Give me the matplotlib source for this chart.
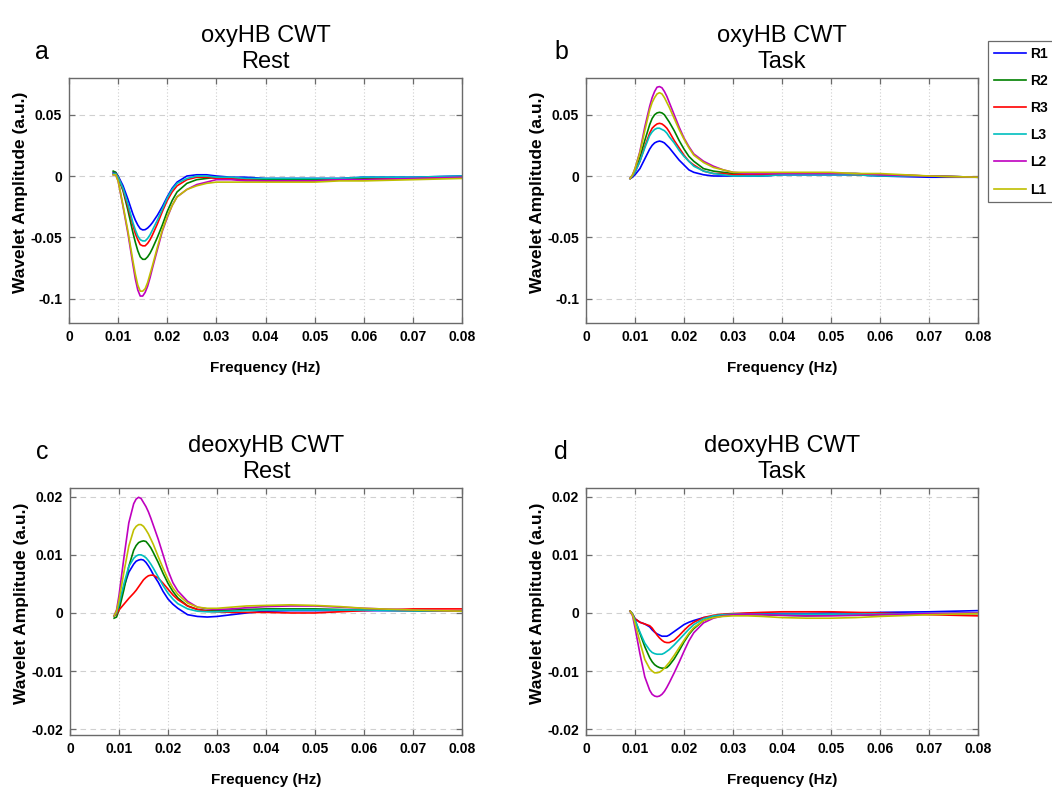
import numpy as np
import matplotlib
matplotlib.use("Agg")
import matplotlib.pyplot as plt
from matplotlib.ticker import FormatStrFormatter, MultipleLocator

plt.rcParams['font.family'] = ['Liberation Sans', 'DejaVu Sans']

# frequency samples (Hz), shared by all panels
freq = [0.009, 0.0095, 0.010, 0.011, 0.012, 0.013, 0.0135, 0.014, 0.0145, 0.015,
        0.0155, 0.016, 0.0165, 0.017, 0.018, 0.019, 0.020, 0.021, 0.022, 0.024,
        0.026, 0.028, 0.030, 0.033, 0.036, 0.040, 0.045, 0.050, 0.055, 0.060,
        0.070, 0.080]

channels = ['R1', 'R2', 'R3', 'L3', 'L2', 'L1']

# a: oxyHB rest
oxy_rest = {
    'R1': [0.003, 0.003, 0.000, -0.008, -0.019, -0.031, -0.036, -0.040, -0.043, -0.044,
           -0.0438, -0.0425, -0.0405, -0.038, -0.032, -0.025, -0.017, -0.010, -0.005, 0.000,
           0.001, 0.001, 0.000, -0.001, -0.001, -0.002, -0.002, -0.002, -0.002, -0.001,
           -0.001, 0.000],
    'R2': [0.004, 0.003, -0.001, -0.012, -0.028, -0.046, -0.054, -0.061, -0.066, -0.068,
           -0.068, -0.066, -0.063, -0.059, -0.050, -0.040, -0.029, -0.020, -0.013, -0.006,
           -0.003, -0.002, -0.001, -0.002, -0.003, -0.003, -0.003, -0.003, -0.003, -0.002,
           -0.002, -0.001],
    'R3': [0.002, 0.002, -0.001, -0.011, -0.025, -0.040, -0.047, -0.052, -0.056, -0.057,
           -0.057, -0.055, -0.052, -0.048, -0.039, -0.029, -0.020, -0.013, -0.008, -0.003,
           -0.001, -0.001, -0.002, -0.002, -0.003, -0.004, -0.004, -0.004, -0.003, -0.003,
           -0.002, -0.001],
    'L3': [0.002, 0.002, -0.001, -0.010, -0.023, -0.038, -0.044, -0.049, -0.052, -0.053,
           -0.053, -0.051, -0.048, -0.044, -0.036, -0.027, -0.018, -0.011, -0.006, -0.002,
           0.000, 0.000, -0.001, -0.001, -0.002, -0.002, -0.002, -0.002, -0.002, -0.001,
           -0.001, 0.000],
    'L2': [0.001, 0.001, -0.004, -0.025, -0.047, -0.072, -0.084, -0.093, -0.098, -0.098,
           -0.095, -0.090, -0.083, -0.075, -0.060, -0.045, -0.034, -0.024, -0.017, -0.011,
           -0.007, -0.005, -0.003, -0.003, -0.004, -0.004, -0.004, -0.004, -0.003, -0.003,
           -0.002, -0.001],
    'L1': [0.001, 0.001, -0.004, -0.024, -0.045, -0.069, -0.080, -0.089, -0.094, -0.094,
           -0.092, -0.087, -0.080, -0.073, -0.058, -0.044, -0.033, -0.024, -0.017, -0.011,
           -0.008, -0.006, -0.005, -0.005, -0.005, -0.005, -0.005, -0.005, -0.004, -0.004,
           -0.003, -0.002],
}

# b: oxyHB task
oxy_task = {
    'R1': [-0.002, -0.001, 0.001, 0.006, 0.014, 0.022, 0.025, 0.027, 0.028, 0.0285,
           0.028, 0.027, 0.025, 0.023, 0.018, 0.013, 0.009, 0.005, 0.003, 0.001,
           0.000, 0.000, 0.000, 0.000, 0.000, 0.001, 0.001, 0.001, 0.001, 0.000,
           -0.001, -0.001],
    'R2': [-0.002, 0.000, 0.004, 0.015, 0.029, 0.042, 0.047, 0.050, 0.0515, 0.052,
           0.0515, 0.050, 0.047, 0.044, 0.037, 0.029, 0.022, 0.016, 0.012, 0.006,
           0.004, 0.003, 0.002, 0.002, 0.002, 0.002, 0.002, 0.002, 0.002, 0.001,
           0.000, -0.001],
    'R3': [-0.002, 0.000, 0.003, 0.012, 0.024, 0.035, 0.039, 0.041, 0.0425, 0.043,
           0.0425, 0.041, 0.039, 0.036, 0.029, 0.023, 0.017, 0.012, 0.009, 0.004,
           0.002, 0.002, 0.001, 0.001, 0.001, 0.002, 0.002, 0.002, 0.001, 0.001,
           0.000, -0.001],
    'L3': [-0.002, 0.000, 0.003, 0.012, 0.023, 0.033, 0.036, 0.038, 0.039, 0.039,
           0.038, 0.037, 0.035, 0.032, 0.027, 0.021, 0.016, 0.012, 0.008, 0.004,
           0.002, 0.001, 0.000, 0.000, 0.000, 0.001, 0.001, 0.001, 0.001, 0.000,
           0.000, -0.001],
    'L2': [-0.002, 0.001, 0.006, 0.020, 0.040, 0.057, 0.064, 0.069, 0.0725, 0.073,
           0.072, 0.069, 0.065, 0.060, 0.050, 0.040, 0.031, 0.024, 0.018, 0.012,
           0.008, 0.005, 0.003, 0.002, 0.002, 0.002, 0.002, 0.002, 0.002, 0.001,
           0.000, -0.001],
    'L1': [-0.002, 0.001, 0.006, 0.019, 0.037, 0.054, 0.060, 0.064, 0.067, 0.068,
           0.067, 0.064, 0.060, 0.056, 0.047, 0.038, 0.030, 0.023, 0.017, 0.011,
           0.007, 0.005, 0.003, 0.003, 0.003, 0.003, 0.003, 0.003, 0.002, 0.002,
           0.000, -0.001],
}

# c: deoxyHB rest
deoxy_rest = {
    'R1': [-0.0005, 0.0000, 0.0013, 0.0045, 0.0070, 0.0084, 0.0089, 0.0091, 0.0092, 0.0091,
           0.0087, 0.0081, 0.0074, 0.0066, 0.0053, 0.0037, 0.0024, 0.0015, 0.0008, -0.0003,
           -0.0006, -0.0007, -0.0006, -0.0003, 0.0000, 0.0003, 0.0004, 0.0004, 0.0004, 0.0004,
           0.0004, 0.0003],
    'R2': [-0.0009, -0.0007, 0.0005, 0.0040, 0.0080, 0.0108, 0.0116, 0.0121, 0.0123, 0.0124,
           0.0123, 0.0118, 0.0112, 0.0104, 0.0087, 0.0068, 0.0051, 0.0037, 0.0026, 0.0012,
           0.0006, 0.0004, 0.0004, 0.0005, 0.0006, 0.0007, 0.0007, 0.0007, 0.0006, 0.0005,
           0.0004, 0.0003],
    'R3': [-0.0005, -0.0002, 0.0005, 0.0015, 0.0025, 0.0034, 0.0039, 0.0045, 0.0051, 0.0057,
           0.0061, 0.0064, 0.0065, 0.0065, 0.0060, 0.0051, 0.0041, 0.0031, 0.0023, 0.0012,
           0.0006, 0.0003, 0.0002, 0.0001, 0.0001, 0.0001, 0.0000, 0.0000, 0.0002, 0.0004,
           0.0007, 0.0007],
    'L3': [-0.0005, 0.0000, 0.0015, 0.0050, 0.0080, 0.0094, 0.0098, 0.0100, 0.0100, 0.0098,
           0.0095, 0.0090, 0.0084, 0.0077, 0.0062, 0.0047, 0.0034, 0.0024, 0.0016, 0.0007,
           0.0003, 0.0002, 0.0002, 0.0003, 0.0004, 0.0005, 0.0005, 0.0005, 0.0005, 0.0005,
           0.0004, 0.0003],
    'L2': [-0.0005, 0.0005, 0.0030, 0.0095, 0.0155, 0.0188, 0.0196, 0.0199, 0.0197, 0.0190,
           0.0183, 0.0174, 0.0163, 0.0151, 0.0127, 0.0100, 0.0073, 0.0052, 0.0038, 0.0020,
           0.0010, 0.0007, 0.0006, 0.0007, 0.0009, 0.0011, 0.0012, 0.0012, 0.0010, 0.0008,
           0.0005, 0.0003],
    'L1': [-0.0005, 0.0003, 0.0022, 0.0070, 0.0115, 0.0143, 0.0149, 0.0152, 0.0152, 0.0149,
           0.0143, 0.0136, 0.0127, 0.0118, 0.0097, 0.0077, 0.0058, 0.0043, 0.0032, 0.0017,
           0.0010, 0.0008, 0.0008, 0.0010, 0.0012, 0.0013, 0.0014, 0.0013, 0.0011, 0.0008,
           0.0005, 0.0003],
}

# d: deoxyHB task
deoxy_task = {
    'R1': [0.0003, -0.0002, -0.0010, -0.0016, -0.0019, -0.0024, -0.0029, -0.0033, -0.0036, -0.0038,
           -0.0040, -0.0040, -0.0040, -0.0038, -0.0032, -0.0026, -0.0020, -0.0016, -0.0013, -0.0008,
           -0.0006, -0.0003, -0.0002, -0.0001, -0.0001, -0.0001, -0.0001, 0.0000, 0.0000, 0.0001,
           0.0002, 0.0004],
    'R2': [0.0003, -0.0002, -0.0012, -0.0035, -0.0058, -0.0077, -0.0084, -0.0089, -0.0092, -0.0094,
           -0.0095, -0.0095, -0.0094, -0.0090, -0.0079, -0.0065, -0.0050, -0.0037, -0.0027, -0.0013,
           -0.0007, -0.0004, -0.0003, -0.0003, -0.0003, -0.0004, -0.0005, -0.0004, -0.0004, -0.0003,
           -0.0002, -0.0001],
    'R3': [0.0003, -0.0002, -0.0010, -0.0016, -0.0019, -0.0022, -0.0026, -0.0032, -0.0038, -0.0043,
           -0.0047, -0.0050, -0.0051, -0.0051, -0.0047, -0.0039, -0.0030, -0.0022, -0.0016, -0.0008,
           -0.0004, -0.0002, -0.0001, 0.0000, 0.0001, 0.0002, 0.0002, 0.0002, 0.0001, 0.0000,
           -0.0003, -0.0005],
    'L3': [0.0003, -0.0002, -0.0012, -0.0033, -0.0052, -0.0064, -0.0068, -0.0070, -0.0071, -0.0071,
           -0.0071, -0.0069, -0.0066, -0.0063, -0.0055, -0.0046, -0.0037, -0.0028, -0.0020, -0.0010,
           -0.0005, -0.0003, -0.0002, -0.0002, -0.0002, -0.0002, -0.0002, -0.0002, -0.0002, -0.0002,
           -0.0001, 0.0000],
    'L2': [0.0003, -0.0005, -0.0025, -0.0070, -0.0110, -0.0133, -0.0140, -0.0143, -0.0144, -0.0143,
           -0.0140, -0.0135, -0.0128, -0.0120, -0.0103, -0.0085, -0.0066, -0.0048, -0.0034, -0.0017,
           -0.0009, -0.0005, -0.0003, -0.0002, -0.0003, -0.0004, -0.0005, -0.0005, -0.0004, -0.0003,
           -0.0001, 0.0000],
    'L1': [0.0003, -0.0003, -0.0018, -0.0050, -0.0080, -0.0096, -0.0100, -0.0103, -0.0103, -0.0102,
           -0.0099, -0.0095, -0.0090, -0.0085, -0.0073, -0.0060, -0.0047, -0.0035, -0.0025, -0.0013,
           -0.0008, -0.0006, -0.0005, -0.0005, -0.0006, -0.0008, -0.0009, -0.0009, -0.0008, -0.0006,
           -0.0003, -0.0001],
}

# classic MATLAB colour order
colors = {'R1': (0, 0, 1), 'R2': (0, 0.5, 0), 'R3': (1, 0, 0),
          'L3': (0, 0.75, 0.75), 'L2': (0.75, 0, 0.75), 'L1': (0.75, 0.75, 0)}

W, H = 1052, 787
fig = plt.figure(figsize=(W / 100, H / 100), dpi=100)


def box(left, top, right, bottom):
    return [left / W, 1 - bottom / H, (right - left) / W, (bottom - top) / H]


panels = [
    ('a', 'oxyHB CWT\nRest', oxy_rest, box(69, 78, 462, 323), (-0.12, 0.08), 0.05),
    ('b', 'oxyHB CWT\nTask', oxy_task, box(586, 78, 978, 323), (-0.12, 0.08), 0.05),
    ('c', 'deoxyHB CWT\nRest', deoxy_rest, box(70, 488, 462, 735), (-0.021, 0.0215), 0.01),
    ('d', 'deoxyHB CWT\nTask', deoxy_task, box(586, 488, 978, 735), (-0.021, 0.0215), 0.01),
]

axis_col = '#6a6a6a'
handles = []
for letter, title, data, pos, ylim, ystep in panels:
    ax = fig.add_axes(pos)
    lines = []
    for ch in channels:
        ln, = ax.plot(freq, data[ch], color=colors[ch], lw=1.2, label=ch)
        lines.append(ln)
    handles = lines

    ax.set_xlim(0, 0.08)
    ax.set_ylim(*ylim)
    ax.xaxis.set_major_locator(MultipleLocator(0.01))
    ax.yaxis.set_major_locator(MultipleLocator(ystep))
    ax.xaxis.set_major_formatter(FormatStrFormatter('%g'))
    ax.yaxis.set_major_formatter(FormatStrFormatter('%g'))

    ax.xaxis.grid(True, linestyle=(0, (1, 2)), color='#cfcfcf', lw=0.8)
    ax.yaxis.grid(True, linestyle=(0, (5, 4)), color='#d0d0d0', lw=0.8)
    ax.set_axisbelow(True)

    for sp in ax.spines.values():
        sp.set_color(axis_col)
        sp.set_linewidth(1.0)
    ax.tick_params(direction='in', top=True, right=True, length=4, width=0.9,
                   color=axis_col, labelsize=10, pad=5)
    for lab in ax.get_xticklabels() + ax.get_yticklabels():
        lab.set_fontweight('bold')

    ax.set_xlabel('Frequency (Hz)', fontsize=11, fontweight='bold', labelpad=12)
    ax.set_ylabel('Wavelet Amplitude (a.u.)', fontsize=12.5, fontweight='bold')
    ax.yaxis.set_label_coords(-0.105, 0.535)
    ax.set_title(title, fontsize=17, pad=7, linespacing=1.25)

    lx = 42 if letter in 'ac' else 561
    ly = 52 if letter in 'ab' else 452
    fig.text(lx / W, 1 - ly / H, letter, fontsize=18, ha='center', va='center')

leg = fig.legend(handles=handles, labels=channels, loc='upper left',
                 bbox_to_anchor=(988 / W, 1 - 41 / H), borderaxespad=0,
                 prop={'weight': 'bold', 'size': 10},
                 handlelength=2.3, handletextpad=0.35, labelspacing=0.95,
                 borderpad=0.4, fancybox=False, framealpha=1, edgecolor=axis_col)
leg.get_frame().set_linewidth(0.9)

fig.savefig('out.png', dpi=100)
